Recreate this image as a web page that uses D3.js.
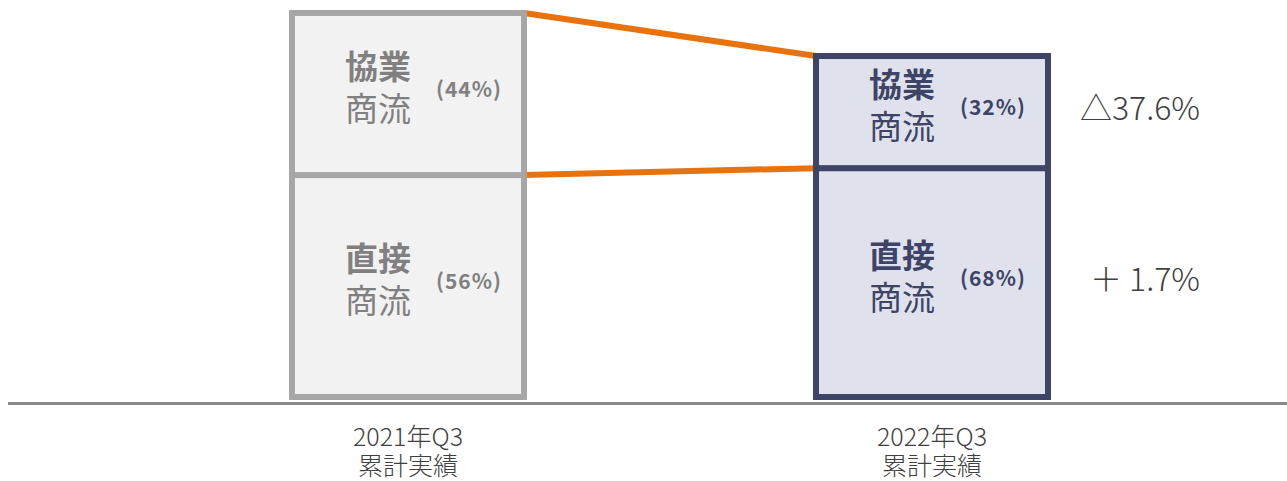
<!DOCTYPE html>
<html>
<head>
<meta charset="utf-8">
<script src="https://d3js.org/d3.v7.min.js"></script>
<style>
  body { margin: 0; background: #fff; }
  svg { display: block; font-family: "Noto Sans CJK JP", "Noto Sans", sans-serif; }
</style>
</head>
<body>
<div id="chart"></div>
<script>
// data (index, 2021 total = 100)
const categories = ["2021年Q3", "2022年Q3"];
const subLabel = "累計実績";
const segments = ["直接", "協業"];
const directValues = [57.8, 59.6];
const collabValues = [42.2, 29.2];
const directShare = ["(56%)", "(68%)"];
const collabShare = ["(44%)", "(32%)"];
const changeLabels = ["＋ 1.7%", "△37.6%"]; // direct, collab

const width = 1287;
const height = 481;
const barWidth = 232;

const svg = d3.select("#chart").append("svg")
  .attr("width", width).attr("height", height);

const x = d3.scalePoint().domain(categories).range([408, 932]);
const y = d3.scaleLinear().domain([0, 100]).range([397, 13]);

// stacked data
const stacks = categories.map(function (c, i) {
  return [
    { cat: c, i: i, key: segments[0], y0: 0, y1: directValues[i], share: directShare[i] },
    { cat: c, i: i, key: segments[1], y0: directValues[i], y1: directValues[i] + collabValues[i], share: collabShare[i] }
  ];
});

const styles = [
  { fill: "#f2f2f2", stroke: "#a6a6a6", text: "#808080" },
  { fill: "#dfe2ec", stroke: "#3d4466", text: "#3d4466" }
];

// orange connectors between the segment tops
const connectors = [directValues.slice(),
  directValues.map(function (d, i) { return d + collabValues[i]; })];
svg.append("g").selectAll("line")
  .data(connectors)
  .join("line")
  .attr("x1", x(categories[0]) + barWidth / 2)
  .attr("x2", x(categories[1]) - barWidth / 2)
  .attr("y1", function (d) { return y(d[0]); })
  .attr("y2", function (d) { return y(d[1]); })
  .attr("stroke", "#e8720c")
  .attr("stroke-width", 6);

// axis baseline
svg.append("line")
  .attr("x1", 8).attr("x2", width)
  .attr("y1", 403.5).attr("y2", 403.5)
  .attr("stroke", "#898989").attr("stroke-width", 3);

const bars = svg.append("g").selectAll("g")
  .data(stacks)
  .join("g");

bars.selectAll("rect")
  .data(function (d) { return d; })
  .join("rect")
  .attr("x", function (d) { return x(d.cat) - barWidth / 2; })
  .attr("y", function (d) { return y(d.y1); })
  .attr("width", barWidth)
  .attr("height", function (d) { return y(d.y0) - y(d.y1); })
  .attr("fill", function (d) { return styles[d.i].fill; })
  .attr("stroke", function (d) { return styles[d.i].stroke; })
  .attr("stroke-width", 6);

const labels = bars.selectAll("g.lab")
  .data(function (d) { return d; })
  .join("g")
  .attr("class", "lab")
  .attr("transform", function (d) {
    return "translate(" + x(d.cat) + "," + ((y(d.y0) + y(d.y1)) / 2 - 6) + ")";
  })
  .attr("fill", function (d) { return styles[d.i].text; });

labels.append("text")
  .attr("x", -30).attr("y", -9)
  .attr("text-anchor", "middle")
  .attr("font-size", 33).attr("font-weight", 700)
  .text(function (d) { return d.key; });

labels.append("text")
  .attr("x", -30).attr("y", 33)
  .attr("text-anchor", "middle")
  .attr("font-size", 33).attr("font-weight", 400)
  .text("商流");

labels.append("text")
  .attr("x", 61).attr("y", 9)
  .attr("text-anchor", "middle")
  .attr("font-size", 21).attr("font-weight", 700)
  .attr("letter-spacing", 1)
  .text(function (d) { return d.share; });

// change labels to the right of the 2022 bar
const last = stacks[1];
svg.append("g").selectAll("text")
  .data(last)
  .join("text")
  .attr("x", 1200)
  .attr("y", function (d) { return (y(d.y0) + y(d.y1)) / 2 - 6; })
  .attr("dominant-baseline", "central")
  .attr("text-anchor", "end")
  .attr("font-size", 32).attr("font-weight", 300)
  .attr("fill", "#404040")
  .style("white-space", "pre")
  .text(function (d, i) { return changeLabels[i]; });

// category labels
const cat = svg.append("g").selectAll("text")
  .data(categories)
  .join("text")
  .attr("x", function (d) { return x(d); })
  .attr("text-anchor", "middle")
  .attr("font-size", 25).attr("font-weight", 300)
  .attr("fill", "#404040");
cat.append("tspan").attr("x", function (d) { return x(d); }).attr("y", 446).text(function (d) { return d; });
cat.append("tspan").attr("x", function (d) { return x(d); }).attr("y", 475).text(subLabel);
</script>
</body>
</html>
